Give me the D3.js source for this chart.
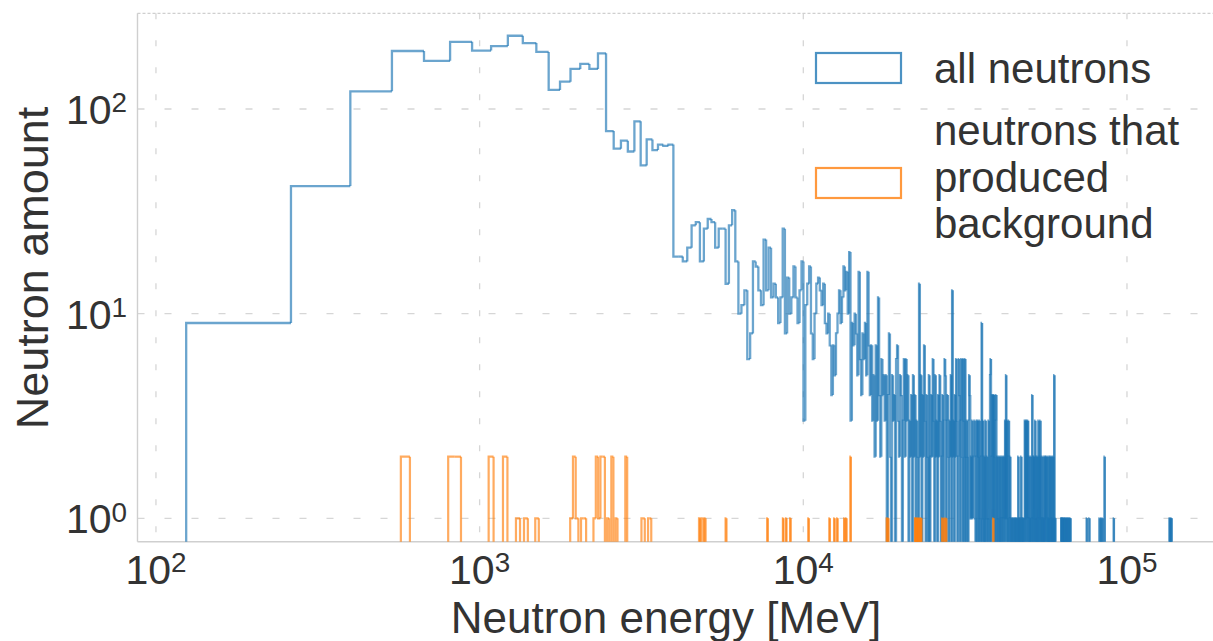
<!DOCTYPE html>
<html><head><meta charset="utf-8">
<script src="https://cdn.jsdelivr.net/npm/d3@7"></script>
<style>body{margin:0;background:#fff}svg{display:block}</style>
</head><body>
<script>
// ---- data ----
const binStart = 124;        // MeV, first bin edge (all neutrons)
const binWidth = 137.3;      // MeV, linear bins
const binTotal = 1000;
// counts of bins 0..437
const allNeutrons = [
  9,42,122,192,172,213,193,203,228,210,
  190,124,136,157,166,157,187,78,64,70,
  62,87,53,71,63,67,66,67,19,19,
  18,21,27,28,18,26,29,28,21,26,
  26,14,27,32,18,10,11,13,6,8,
  18,17,13,11,23,13,21,12,14,12,
  9,12,26,8,15,10,12,17,12,9,
  13,18,3,11,14,17,8,6,10,14,
  15,13,11,14,9,8,10,7,4,7,
  5,8,10,13,9,12,17,13,16,10,
  20,3,9,7,10,8,5,16,6,4,
  8,6,9,5,16,7,4,7,3,5,
  2,7,3,12,4,2,6,4,5,3,
  5,0,4,8,2,0,5,3,4,0,
  6,7,3,2,5,4,0,3,6,2,
  6,3,5,0,3,2,4,0,5,2,
  4,0,3,2,0,14,2,5,0,4,
  2,7,3,0,4,2,0,5,0,2,
  4,2,6,3,0,5,2,3,0,4,
  2,5,3,0,2,4,0,3,6,5,
  0,3,4,2,0,3,2,5,0,13,
  2,3,0,4,2,6,3,0,2,6,
  4,0,3,6,2,0,6,3,0,6,
  2,0,3,2,0,3,5,4,1,2,
  1,3,1,2,2,3,1,0,2,3,
  0,3,2,0,3,1,0,2,9,0,
  3,1,0,2,0,3,1,0,2,1,
  0,3,1,0,5,6,0,2,4,1,
  4,0,4,2,0,3,4,0,2,1,
  0,2,1,0,2,0,1,2,0,1,
  2,0,1,2,0,3,1,5,0,3,
  1,0,2,3,0,1,2,0,1,0,
  1,1,0,1,0,1,1,0,1,0,
  1,0,1,1,0,2,0,1,0,1,
  0,1,2,0,1,0,1,0,1,1,
  0,3,1,0,3,1,3,0,2,3,
  0,1,2,0,1,0,2,1,0,1,
  4,0,1,2,0,2,1,0,3,1,
  0,2,1,0,2,0,1,3,0,1,
  2,0,3,1,0,1,2,0,1,0,
  1,2,0,1,0,2,1,0,2,1,
  2,0,1,1,0,2,0,1,0,2,
  1,0,2,1,0,1,2,0,1,0,
  2,1,0,5,1,0,1,0
];
// sparse tail: [bin index, count]
const allNeutronsTail = [
  [455,1],[457,1],[459,1],[461,1],[463,1],[466,1],[468,1],[471,1],[474,1],
  [477,1],[480,1],[483,1],[486,1],[546,1],[556,1],[598,1],[605,1],[611,1],
  [620,2],[662,1],[985,1],[992,1],[999,1]
];
const bgStart = 571;         // MeV (background neutrons)
const bgWidth = 38.1;
const bgTotal = 1000;
const background = [
  [0,2],[6,2],[7,2],[13,2],[16,2],[19,1],[21,1],[24,1],[35,1],[36,2],[37,1],
  [39,1],[40,1],[44,1],[45,2],[46,1],[47,2],[48,2],[50,1],[52,2],[54,1],[59,2],
  [68,1],[69,1],[72,1],[73,1],[110,1],[112,1],[113,1],[115,1],[136,1],[188,1],
  [212,1],[217,1],[224,1],[257,1],[301,1],[312,1],[319,1],[336,1],[341,1],[352,2],
  [460,1],[465,1],[566,1],[569,1],[573,1],[577,1],[582,1],[588,1],[592,1],
  [690,1],[700,1],[710,1],[999,1]
];
const xTickExp = [2,3,4,5];
const yTickExp = [0,1,2];
const seriesNames = ["all neutrons", "neutrons that\nproduced\nbackground"];

// ---- layout ----
const W = 1213, H = 641;
const P = {left:137.5, top:13.3, right:1213, bottom:541.7};
const FONT = "'Liberation Sans', Arial, sans-serif";
const TXT = "#333";
const BLUE = "#1f77b4", ORANGE = "#ff7f0e";

const svg = d3.select("body").append("svg").attr("width", W).attr("height", H);
const x = d3.scaleLog().domain([87.7, 184400]).range([P.left, P.right]);
const y = d3.scaleLog().domain([0.7684, 293.5]).range([P.bottom, P.top]);

svg.append("clipPath").attr("id","clip").append("rect")
  .attr("x",P.left).attr("y",P.top).attr("width",P.right-P.left).attr("height",P.bottom-P.top);

// grid
const g = svg.append("g");
g.selectAll(".vg").data(xTickExp).join("line")
  .attr("x1",d=>x(10**d)).attr("x2",d=>x(10**d)).attr("y1",P.top).attr("y2",P.bottom)
  .attr("stroke","#d6d6d6").attr("stroke-width",1.3).attr("stroke-dasharray","6,21");
g.selectAll(".hg").data(yTickExp).join("line")
  .attr("y1",d=>y(10**d)).attr("y2",d=>y(10**d)).attr("x1",P.left).attr("x2",P.right)
  .attr("stroke","#d6d6d6").attr("stroke-width",1.3).attr("stroke-dasharray","7,20");
// spines
g.append("line").attr("x1",P.left).attr("x2",P.left).attr("y1",P.top).attr("y2",P.bottom)
  .attr("stroke","#cfcfcf").attr("stroke-width",1.4);
g.append("line").attr("x1",P.left).attr("x2",P.right).attr("y1",P.bottom).attr("y2",P.bottom)
  .attr("stroke","#cfcfcf").attr("stroke-width",1.4);
g.append("line").attr("x1",P.left).attr("x2",P.right).attr("y1",P.top).attr("y2",P.top)
  .attr("stroke","#cfcfcf").attr("stroke-width",1.3).attr("stroke-dasharray","3,2");

// build full counts
function fullCounts(dense, sparse, n){
  const c = new Array(n).fill(0);
  dense.forEach((v,i)=>c[i]=v);
  sparse.forEach(([i,v])=>c[i]=v);
  return c;
}
const blueCounts = fullCounts(allNeutrons, allNeutronsTail, binTotal);
const orangeCounts = fullCounts([], background, bgTotal);

const yZero = P.bottom + 30;
const yv = v => v > 0 ? y(v) : yZero;

function stepSegments(counts, start, width){
  const segs = [];
  for (let k=0;k<counts.length;k++){
    const prev = k===0 ? 0 : counts[k-1];
    const cur = counts[k];
    if (prev===0 && cur===0) continue;
    const xl = x(start + k*width), xr = x(start + (k+1)*width);
    segs.push(`M${xl},${yv(prev)}V${yv(cur)}H${xr}`);
  }
  const last = counts[counts.length-1];
  if (last>0){
    const xr = x(start + counts.length*width);
    segs.push(`M${xr},${yv(last)}V${yZero}`);
  }
  return segs;
}

const marks = svg.append("g").attr("clip-path","url(#clip)");
marks.append("g").selectAll("path").data(stepSegments(blueCounts, binStart, binWidth)).join("path")
  .attr("d",d=>d).attr("fill","none").attr("stroke",BLUE).attr("stroke-width",2.3)
  .attr("stroke-opacity",0.66);
marks.append("g").selectAll("path").data(stepSegments(orangeCounts, bgStart, bgWidth)).join("path")
  .attr("d",d=>d).attr("fill","none").attr("stroke",ORANGE).attr("stroke-width",2.2)
  .attr("stroke-opacity",0.66);

// tick labels
function powLabel(sel, exp){
  sel.append("tspan").text("10");
  sel.append("tspan").attr("dy","-0.42em").attr("font-size","0.68em").text(exp);
}
svg.append("g").selectAll("text").data(xTickExp).join("text")
  .attr("x",d=>x(10**d)).attr("y",584).attr("text-anchor","middle")
  .attr("font-family",FONT).attr("font-size",41).attr("fill",TXT)
  .each(function(d){ powLabel(d3.select(this), d); });
svg.append("g").selectAll("text").data(yTickExp).join("text")
  .attr("x",127).attr("y",d=>y(10**d)+15).attr("text-anchor","end")
  .attr("font-family",FONT).attr("font-size",41).attr("fill",TXT)
  .each(function(d){ powLabel(d3.select(this), d); });

// axis titles
svg.append("text").attr("x",666).attr("y",633).attr("text-anchor","middle")
  .attr("font-family",FONT).attr("font-size",44).attr("fill",TXT).text("Neutron energy [MeV]");
svg.append("text").attr("transform","translate(48,268) rotate(-90)").attr("text-anchor","middle")
  .attr("font-family",FONT).attr("font-size",45).attr("fill",TXT).text("Neutron amount");

// legend
const leg = svg.append("g");
const legRows = [
  {name: seriesNames[0], color: BLUE, ry: 53, lines:[83]},
  {name: seriesNames[1], color: ORANGE, ry: 168, lines:[145,191.5,238]}
];
legRows.forEach(r=>{
  leg.append("rect").attr("x",816).attr("y",r.ry).attr("width",85).attr("height",30)
    .attr("fill","none").attr("stroke",r.color).attr("stroke-width",2.2).attr("stroke-opacity",0.8);
  const parts = r.name.split("\n");
  parts.forEach((t,i)=>{
    leg.append("text").attr("x",934).attr("y",r.lines[i]).attr("font-family",FONT)
      .attr("font-size",42).attr("fill",TXT).text(t);
  });
});
</script>
</body></html>
